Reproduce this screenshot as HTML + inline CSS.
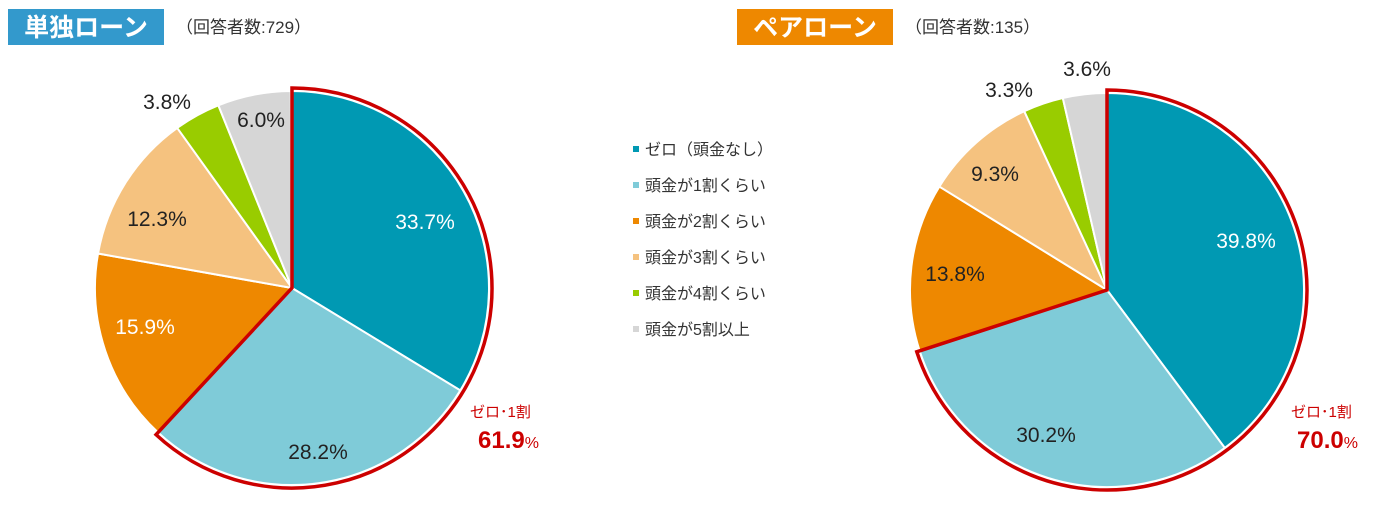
<!DOCTYPE html>
<html><head><meta charset="utf-8"><style>
body{margin:0;background:#fff;width:1382px;height:503px;overflow:hidden;font-family:"Liberation Sans","Noto Sans CJK JP",sans-serif}
svg text{font-family:"Liberation Sans","Noto Sans CJK JP",sans-serif}
</style></head><body>
<svg id="s" width="1382" height="503" xmlns="http://www.w3.org/2000/svg">
<rect x="8" y="9" width="156" height="36" fill="#3399cc"/>
<text x="86" y="36" font-size="25" font-weight="bold" fill="#fff" text-anchor="middle">単独ローン</text>
<text x="176" y="33" font-size="17" fill="#333">（回答者数:729）</text>
<rect x="737" y="9" width="156" height="36" fill="#ee8800"/>
<text x="815" y="36" font-size="25" font-weight="bold" fill="#fff" text-anchor="middle">ペアローン</text>
<text x="905" y="33" font-size="17" fill="#333">（回答者数:135）</text>
<g id="leg" font-size="16" fill="#333"></g>
<g id="p"></g>
<g font-size="21" text-anchor="middle">
<text x="425" y="229" fill="#fff">33.7%</text>
<text x="318" y="459" fill="#222">28.2%</text>
<text x="145" y="334" fill="#fff">15.9%</text>
<text x="157" y="226" fill="#222">12.3%</text>
<text x="167" y="109" fill="#222">3.8%</text>
<text x="261" y="127" fill="#222">6.0%</text>
<text x="1246" y="248" fill="#fff">39.8%</text>
<text x="1046" y="442" fill="#222">30.2%</text>
<text x="955" y="281" fill="#222">13.8%</text>
<text x="995" y="181" fill="#222">9.3%</text>
<text x="1009" y="97" fill="#222">3.3%</text>
<text x="1087" y="76" fill="#222">3.6%</text>
</g>
<text x="470" y="417" font-size="15" fill="#c00">ゼロ･1割</text>
<text x="478" y="448" font-size="24" font-weight="bold" fill="#c00">61.9<tspan font-size="16" font-weight="normal">%</tspan></text>
<text x="1291" y="417" font-size="15" fill="#c00">ゼロ･1割</text>
<text x="1297" y="448" font-size="24" font-weight="bold" fill="#c00">70.0<tspan font-size="16" font-weight="normal">%</tspan></text>
</svg>
<script>
var C=["#0099b3","#7fcbd8","#ee8800","#f5c27f","#99cc00","#d6d6d6"];
var NS="http://www.w3.org/2000/svg",g=document.getElementById("p");
function pt(cx,cy,r,a){a=a*Math.PI/180;return [cx+r*Math.sin(a),cy-r*Math.cos(a)];}
function arc(cx,cy,r,a0,a1){var p0=pt(cx,cy,r,a0),p1=pt(cx,cy,r,a1);return "M"+cx+","+cy+"L"+p0[0]+","+p0[1]+"A"+r+","+r+" 0 "+((a1-a0)>180?1:0)+" 1 "+p1[0]+","+p1[1]+"Z";}
function el(t,at){var e=document.createElementNS(NS,t);for(var k in at)e.setAttribute(k,at[k]);g.appendChild(e);}
function pie(cx,cy,r,v){var a=0;v.forEach(function(x,i){var b=a+x*3.6;el("path",{d:arc(cx,cy,r,a,b),fill:C[i],stroke:"#fff","stroke-width":2});a=b;});
var e=(v[0]+v[1])*3.6;el("path",{d:arc(cx,cy,r+3,0,e),fill:"none",stroke:"#c00","stroke-width":3.5,"stroke-linejoin":"miter"});}
pie(292,288,197,[33.7,28.2,15.9,12.3,3.8,6.0]);
pie(1107,290,197,[39.8,30.2,13.8,9.3,3.3,3.6]);
var L=["ゼロ（頭金なし）","頭金が1割くらい","頭金が2割くらい","頭金が3割くらい","頭金が4割くらい","頭金が5割以上"],lg=document.getElementById("leg");
L.forEach(function(t,i){var y=150+i*36;var r=document.createElementNS(NS,"rect");r.setAttribute("x",633);r.setAttribute("y",y-4);r.setAttribute("width",6);r.setAttribute("height",6);r.setAttribute("fill",C[i]);lg.appendChild(r);
var x=document.createElementNS(NS,"text");x.setAttribute("x",645);x.setAttribute("y",y+5);x.textContent=t;lg.appendChild(x);});
</script>
</body></html>
